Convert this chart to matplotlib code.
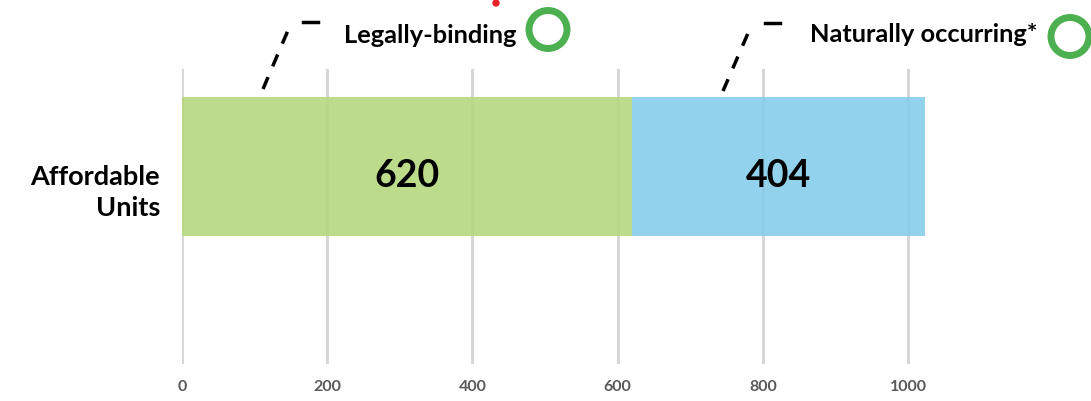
import matplotlib.pyplot as plt
from matplotlib.patches import Circle

category = "Affordable\nUnits"
segments = ["Legally-binding", "Naturally occurring*"]
counts = [620, 404]
colors = ["#b5d97e", "#86cdea"]
xticks = [0, 200, 400, 600, 800, 1000]

plt.rcParams['font.family'] = ['Lato', 'DejaVu Sans']

fig = plt.figure(figsize=(10.91, 4.02), dpi=100)
W, H = 1091, 402
# axes box in pixels: left 182, top 70, bottom 365
ax = fig.add_axes([182 / W, (H - 365) / H, (1050 * 0.726) / W, 295 / H])

ax.set_xlim(0, 1050)
ax.set_ylim(-1.421, 0.701)

left = 0
for n, c in zip(counts, colors):
    ax.barh(0, n, left=left, height=1.0, color=c, alpha=0.9, zorder=2)
    ax.text(left + n / 2, -0.14, str(n), ha='center', va='baseline',
            fontsize=27, fontweight='bold', color='black', zorder=3)
    left += n

ax.set_xticks(xticks)
ax.set_xticklabels([str(t) for t in xticks], fontsize=11.5, fontweight='bold', color='#595959')
ax.tick_params(axis='x', length=0, pad=11)
ax.set_yticks([])
ax.annotate(category, xy=(0, 0), xytext=(-22, -25), textcoords='offset pixels',
            ha='right', va='center', fontsize=19.5, fontweight='bold',
            linespacing=1.35, color='black')
ax.grid(axis='x', color='#d4d4d4', linewidth=2, zorder=1)
ax.set_axisbelow(True)
for s in ax.spines.values():
    s.set_visible(False)

# callouts above the bar (figure pixel coordinates, y from top)
def px(x, y):
    return x / W, (H - y) / H

callouts = [
    dict(diag=[(263, 90), (292, 22)], dash=[(303, 23), (318, 23)],
         text=(344, 43), circle=(548, 30.5, 19)),
    dict(diag=[(723, 92), (752, 25)], dash=[(765, 24), (780, 24)],
         text=(810, 42), circle=(1070, 37.5, 19)),
]
for seg, co in zip(segments, callouts):
    xs, ys = zip(*[px(*p) for p in co['diag']])
    fig.add_artist(plt.Line2D(xs, ys, transform=fig.transFigure, color='black',
                              linewidth=2.5, linestyle=(0, (3.7, 3.4))))
    xs, ys = zip(*[px(*p) for p in co['dash']])
    fig.add_artist(plt.Line2D(xs, ys, transform=fig.transFigure, color='black',
                              linewidth=2.5))
    tx, ty = px(*co['text'])
    fig.text(tx, ty, seg, ha='left', va='baseline', fontsize=18.3, fontweight='bold')
    cx, cy, r = co['circle']
    fig.add_artist(Circle((cx, H - cy), r, transform=None, fill=False,
                          edgecolor='#4caf50', linewidth=5))

fig.add_artist(Circle((496, H - 4), 3, transform=None, color='#e8212b'))

fig.savefig('out.png', dpi=100)
